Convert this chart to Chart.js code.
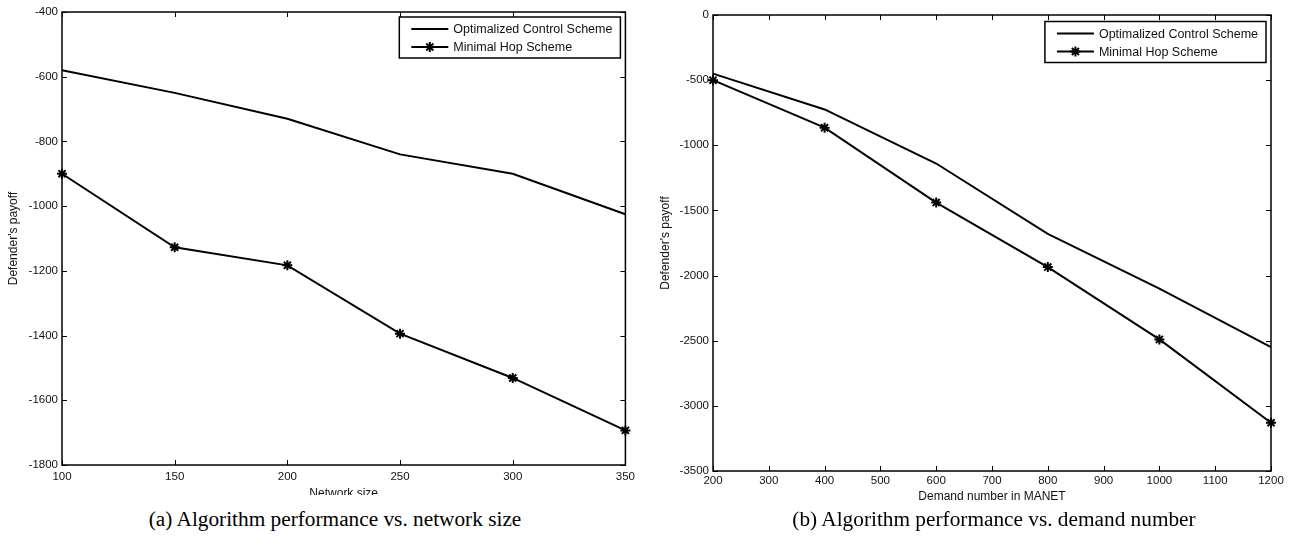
<!DOCTYPE html>
<html>
<head>
<meta charset="utf-8">
<title>Algorithm performance</title>
<script src="https://cdn.jsdelivr.net/npm/chart.js@4.4.0/dist/chart.umd.min.js"></script>
<style>
    body { margin: 0; background: #fff; width: 1291px; height: 537px; overflow: hidden; position: relative; }
    canvas { position: absolute; top: 0; }
    #chartA { left: 0; }
    #chartB { left: 645px; }
    .caption {
        position: absolute; top: 507px; line-height: 24px; white-space: nowrap;
        font-family: "Liberation Serif", "Times New Roman", serif; font-size: 21.3px; color: #000;
        transform: translateX(-50%);
    }
</style>
</head>
<body>
<canvas id="chartA" width="640" height="495"></canvas>
<canvas id="chartB" width="646" height="510"></canvas>
<div class="caption" style="left:335px">(a) Algorithm performance vs. network size</div>
<div class="caption" style="left:994px">(b) Algorithm performance vs. demand number</div>

<script>
// (a) payoff vs network size
const networkSize = [100, 150, 200, 250, 300, 350];
const optimalA = [-580, -650, -730, -840, -900, -1025];
const minHopA = [-900, -1127, -1183, -1394, -1531, -1693];
const xTicksA = [100, 150, 200, 250, 300, 350];
const yTicksA = [-1800, -1600, -1400, -1200, -1000, -800, -600, -400];

// (b) payoff vs demand number
const demandNumber = [200, 400, 600, 800, 1000, 1200];
const optimalB = [-450, -725, -1140, -1680, -2100, -2550];
const minHopB = [-500, -865, -1440, -1935, -2490, -3130];
const xTicksB = [200, 300, 400, 500, 600, 700, 800, 900, 1000, 1100, 1200];
const yTicksB = [-3500, -3000, -2500, -2000, -1500, -1000, -500, 0];

const seriesNames = ['Optimalized Control Scheme', 'Minimal Hop Scheme'];
const FONT = '"Liberation Sans", Arial, sans-serif';

// ghép x và y thành điểm
function toPoints(xs, ys) {
    return xs.map((v, i) => ({ x: v, y: ys[i] }));
}

function drawStar(ctx, x, y, r) {
    const d = r * Math.SQRT1_2;
    ctx.beginPath();
    ctx.moveTo(x - r, y); ctx.lineTo(x + r, y);
    ctx.moveTo(x, y - r); ctx.lineTo(x, y + r);
    ctx.moveTo(x - d, y - d); ctx.lineTo(x + d, y + d);
    ctx.moveTo(x - d, y + d); ctx.lineTo(x + d, y - d);
    ctx.stroke();
}

// khung kiểu matlab: viền + vạch chia hướng vào trong
const matlabFrame = {
    id: 'matlabFrame',
    beforeDatasetsDraw(chart) {
        const { ctx, chartArea: a, scales: { x, y } } = chart;
        ctx.save();
        ctx.strokeStyle = '#000';
        ctx.lineWidth = 1;
        ctx.beginPath();
        x.ticks.forEach(t => {
            const px = Math.round(x.getPixelForValue(t.value)) + 0.5;
            ctx.moveTo(px, a.bottom); ctx.lineTo(px, a.bottom - 5);
            ctx.moveTo(px, a.top); ctx.lineTo(px, a.top + 5);
        });
        y.ticks.forEach(t => {
            const py = Math.round(y.getPixelForValue(t.value)) + 0.5;
            ctx.moveTo(a.left, py); ctx.lineTo(a.left + 5, py);
            ctx.moveTo(a.right, py); ctx.lineTo(a.right - 5, py);
        });
        ctx.stroke();
        ctx.lineWidth = 1.5;
        ctx.strokeRect(a.left, a.top, a.right - a.left, a.bottom - a.top);
        ctx.restore();
    }
};

// chú thích có khung ở góc trên bên phải
const boxLegend = {
    id: 'boxLegend',
    afterDatasetsDraw(chart, args, opts) {
        const { ctx, chartArea: a } = chart;
        const sets = chart.data.datasets;
        ctx.save();
        ctx.font = '12.5px ' + FONT;
        const tw = Math.max(...sets.map(d => ctx.measureText(d.label).width));
        const w = 12 + 37 + 5 + tw + 8;
        const h = 41;
        const left = a.right - 5 - w;
        const top = a.top + opts.offsetTop;
        ctx.fillStyle = '#fff';
        ctx.fillRect(left, top, w, h);
        ctx.strokeStyle = '#000';
        ctx.lineWidth = 1.5;
        ctx.strokeRect(left, top, w, h);
        sets.forEach((d, i) => {
            const cy = top + 12 + i * 18;
            ctx.lineWidth = 2;
            ctx.beginPath();
            ctx.moveTo(left + 12, cy); ctx.lineTo(left + 49, cy);
            ctx.stroke();
            if (d.pointRadius > 0) drawStar(ctx, left + 30.5, cy, d.pointRadius);
            ctx.fillStyle = '#111';
            ctx.textBaseline = 'middle';
            ctx.fillText(d.label, left + 54, cy + 1);
        });
        ctx.restore();
    }
};

function makeChart(id, xs, optimal, minHop, xTicks, yTicks, conf) {
    return new Chart(document.getElementById(id), {
        type: 'line',
        data: {
            datasets: [
                {
                    label: seriesNames[0],
                    data: toPoints(xs, optimal),
                    borderColor: '#000',
                    borderWidth: 2,
                    pointRadius: 0,
                    clip: false,
                },
                {
                    label: seriesNames[1],
                    data: toPoints(xs, minHop),
                    borderColor: '#000',
                    borderWidth: 2,
                    pointStyle: 'star',
                    pointRadius: 5,
                    pointBorderWidth: 2,
                    pointBorderColor: '#000',
                    pointBackgroundColor: '#000',
                    clip: false,
                }
            ]
        },
        options: {
            responsive: false,
            animation: false,
            events: [],
            layout: { padding: { top: conf.top, right: conf.right, left: 0, bottom: 0 } },
            plugins: {
                legend: { display: false },
                tooltip: { enabled: false },
                boxLegend: { offsetTop: conf.legendTop },
            },
            scales: {
                x: {
                    type: 'linear',
                    min: xTicks[0],
                    max: xTicks[xTicks.length - 1],
                    afterBuildTicks: s => { s.ticks = xTicks.map(v => ({ value: v })); },
                    afterFit: s => { s.height = conf.xHeight; },
                    grid: { display: false, drawTicks: false },
                    border: { display: false },
                    ticks: { color: '#111', font: { family: FONT, size: 11.5 }, padding: conf.xPad, maxRotation: 0, autoSkip: false, callback: v => String(v) },
                    title: { display: true, text: conf.xTitle, color: '#111', font: { family: FONT, size: 12 }, padding: { top: 0, bottom: conf.xTitlePad } },
                },
                y: {
                    type: 'linear',
                    min: yTicks[0],
                    max: yTicks[yTicks.length - 1],
                    afterBuildTicks: s => { s.ticks = yTicks.map(v => ({ value: v })); },
                    afterFit: s => { s.width = conf.yWidth; },
                    grid: { display: false, drawTicks: false },
                    border: { display: false },
                    ticks: { color: '#111', font: { family: FONT, size: 11.5 }, padding: 4, autoSkip: false, callback: v => String(v) },
                    title: { display: true, text: "Defender's payoff", color: '#111', font: { family: FONT, size: 12 }, padding: { top: conf.yTitlePad, bottom: 0 } },
                }
            }
        },
        plugins: [matlabFrame, boxLegend]
    });
}

window.addEventListener('DOMContentLoaded', () => {
    makeChart('chartA', networkSize, optimalA, minHopA, xTicksA, yTicksA, {
        top: 12, right: 13, xHeight: 30, yWidth: 62, xPad: 5, xTitle: 'Network size', xTitlePad: -6, yTitlePad: 6, legendTop: 5
    });
    makeChart('chartB', demandNumber, optimalB, minHopB, xTicksB, yTicksB, {
        top: 15, right: 20, xHeight: 39, yWidth: 68, xPad: 3, xTitle: 'Demand number in MANET', xTitlePad: 6, yTitlePad: 13, legendTop: 6.5
    });
});
</script>
</body>
</html>
